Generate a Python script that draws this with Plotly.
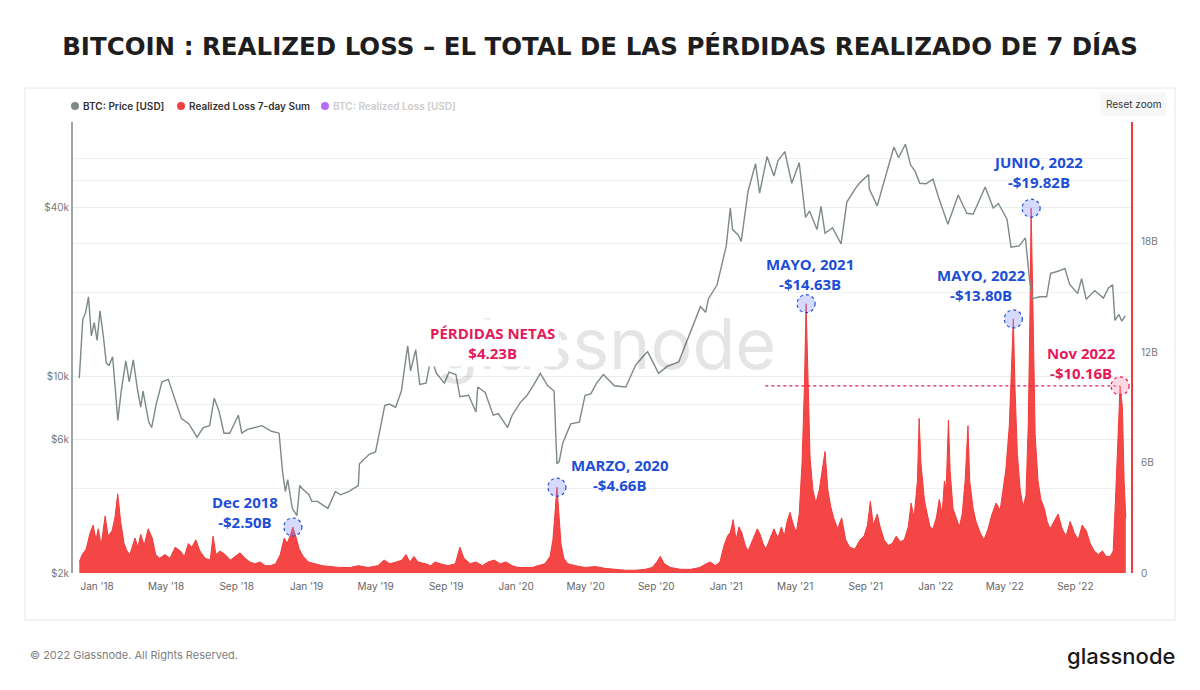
import plotly.graph_objects as go

# ---------------- data ----------------
price_dates = [
    "2017-12-01","2017-12-07","2017-12-12","2017-12-17","2017-12-22","2017-12-27",
    "2018-01-01","2018-01-06","2018-01-12","2018-01-17","2018-01-22","2018-01-28",
    "2018-02-02","2018-02-06","2018-02-12","2018-02-20","2018-02-26","2018-03-05",
    "2018-03-12","2018-03-18","2018-03-22","2018-04-01","2018-04-06","2018-04-14",
    "2018-04-24","2018-05-05","2018-05-15","2018-05-28","2018-06-10","2018-06-24",
    "2018-07-05","2018-07-16","2018-07-24","2018-08-01","2018-08-10","2018-08-20",
    "2018-09-04","2018-09-10","2018-09-20","2018-10-01","2018-10-15","2018-11-01",
    "2018-11-14","2018-11-20","2018-11-25","2018-11-29","2018-12-07","2018-12-15",
    "2018-12-20","2018-12-24","2019-01-05","2019-01-10","2019-01-20","2019-02-07",
    "2019-02-20","2019-03-01","2019-03-15","2019-04-01","2019-04-03","2019-04-20",
    "2019-05-01","2019-05-12","2019-05-17","2019-05-25","2019-06-05","2019-06-15",
    "2019-06-26","2019-07-01","2019-07-10","2019-07-17","2019-07-28","2019-08-06",
    "2019-08-15","2019-08-29","2019-09-06","2019-09-18","2019-09-25","2019-10-10",
    "2019-10-23","2019-10-26","2019-11-08","2019-11-22","2019-12-01","2019-12-17",
    "2019-12-25","2020-01-08","2020-01-20","2020-02-01","2020-02-12","2020-02-25",
    "2020-03-07","2020-03-12","2020-03-16","2020-03-22","2020-04-05","2020-04-20",
    "2020-04-30","2020-05-10","2020-05-20","2020-06-01","2020-06-20","2020-07-10",
    "2020-07-27","2020-08-10","2020-08-17","2020-09-05","2020-09-20","2020-10-10",
    "2020-10-21","2020-11-05","2020-11-17","2020-11-26","2020-12-01","2020-12-16",
    "2020-12-27","2021-01-01","2021-01-08","2021-01-12","2021-01-22","2021-01-27",
    "2021-02-08","2021-02-21","2021-02-28","2021-03-13","2021-03-25","2021-04-01",
    "2021-04-13","2021-04-25","2021-05-08","2021-05-12","2021-05-19","2021-05-26",
    "2021-06-08","2021-06-15","2021-06-22","2021-07-05","2021-07-20","2021-07-30",
    "2021-08-14","2021-08-22","2021-09-06","2021-09-07","2021-09-21","2021-10-01",
    "2021-10-15","2021-10-20","2021-10-28","2021-11-09","2021-11-18","2021-11-26",
    "2021-12-04","2021-12-15","2021-12-27","2022-01-06","2022-01-22","2022-02-09",
    "2022-02-24","2022-03-07","2022-03-28","2022-04-11","2022-04-20","2022-05-05",
    "2022-05-12","2022-05-26","2022-06-06","2022-06-13","2022-06-18","2022-07-01",
    "2022-07-13","2022-07-20","2022-07-30","2022-08-14","2022-08-22","2022-09-05",
    "2022-09-12","2022-09-20","2022-10-05","2022-10-20","2022-10-29","2022-11-05",
    "2022-11-09","2022-11-16","2022-11-21","2022-11-27",
]
price_usd = [
    9900,16000,17000,19300,14000,15600,
    13500,17200,13900,11200,11000,11800,
    8900,7000,8900,11400,9600,11500,
    9100,7800,8900,6900,6600,8000,
    9600,9800,8500,7100,6800,6100,
    6600,6700,8400,7600,6300,6300,
    7300,6300,6500,6600,6700,6400,
    6300,4600,3900,4300,3400,3200,
    4100,4000,3800,3600,3600,3400,
    3900,3800,3900,4100,4900,5300,
    5400,7000,7900,8000,7800,8900,
    12900,10500,12500,9400,9500,11800,
    10300,9500,10400,10200,8500,8600,
    7500,9200,8800,7300,7400,6600,
    7300,8100,8600,9400,10300,9300,
    8900,4900,5000,5800,6800,6900,
    8600,8700,9500,10200,9300,9200,
    11000,11900,12300,10300,10900,11300,
    12900,15600,17800,17000,19000,21300,
    26500,29300,40000,33500,32000,30400,
    46000,57500,45200,61000,52000,58900,
    63500,49000,58000,50000,37000,39000,
    33500,40500,32500,34000,29800,42000,
    47000,49300,52600,46800,40700,48200,
    61500,66000,60500,67500,57000,54000,
    49000,48800,50700,43500,35000,44500,
    38300,38000,47500,40000,41500,36500,
    29000,29300,31300,22500,19000,19300,
    19300,23400,23700,24300,21400,19800,
    22400,18900,20300,19100,20800,21300,
    15900,16700,15800,16500,
]

loss_dates = [
    "2017-12-01","2017-12-06","2017-12-13","2017-12-20","2017-12-25","2017-12-30",
    "2018-01-03","2018-01-08","2018-01-15","2018-01-20","2018-01-27","2018-02-01",
    "2018-02-06","2018-02-11","2018-02-17","2018-02-22","2018-02-27","2018-03-08",
    "2018-03-13","2018-03-18","2018-03-24","2018-03-31","2018-04-07","2018-04-13",
    "2018-04-20","2018-04-29","2018-05-08","2018-05-17","2018-05-26","2018-06-02",
    "2018-06-09","2018-06-15","2018-06-22","2018-06-29","2018-07-08","2018-07-17",
    "2018-07-22","2018-07-27","2018-08-03","2018-08-12","2018-08-21","2018-08-30",
    "2018-09-07","2018-09-16","2018-09-24","2018-10-03","2018-10-12","2018-10-21",
    "2018-10-30","2018-11-08","2018-11-16","2018-11-23","2018-11-28","2018-12-03",
    "2018-12-08","2018-12-14","2018-12-19","2018-12-26","2019-01-04","2019-01-16",
    "2019-01-28","2019-02-11","2019-02-28","2019-03-18","2019-04-01","2019-04-18",
    "2019-05-05","2019-05-16","2019-05-26","2019-06-06","2019-06-16","2019-06-23",
    "2019-06-30","2019-07-07","2019-07-14","2019-07-27","2019-08-05","2019-08-13",
    "2019-08-22","2019-09-04","2019-09-17","2019-09-25","2019-10-02","2019-10-13",
    "2019-10-23","2019-11-03","2019-11-13","2019-11-24","2019-12-04","2019-12-14",
    "2019-12-25","2020-01-04","2020-01-17","2020-01-29","2020-02-08","2020-02-20",
    "2020-02-29","2020-03-05","2020-03-08","2020-03-12","2020-03-15","2020-03-19",
    "2020-03-24","2020-03-31","2020-04-13","2020-04-30","2020-05-18","2020-06-04",
    "2020-06-22","2020-07-09","2020-07-27","2020-08-13","2020-08-25","2020-09-02",
    "2020-09-08","2020-09-15","2020-09-26","2020-10-13","2020-10-31","2020-11-16",
    "2020-11-27","2020-12-04","2020-12-13","2020-12-21","2020-12-28","2021-01-03",
    "2021-01-08","2021-01-13","2021-01-18","2021-01-23","2021-01-28","2021-02-03",
    "2021-02-08","2021-02-13","2021-02-18","2021-02-24","2021-03-01","2021-03-06",
    "2021-03-11","2021-03-18","2021-03-25","2021-04-01","2021-04-07","2021-04-12",
    "2021-04-17","2021-04-22","2021-04-28","2021-05-03","2021-05-08","2021-05-13",
    "2021-05-17","2021-05-20","2021-05-24","2021-05-27","2021-06-01","2021-06-06",
    "2021-06-12","2021-06-17","2021-06-22","2021-06-27","2021-07-02","2021-07-07",
    "2021-07-14","2021-07-21","2021-07-28","2021-08-04","2021-08-13","2021-08-22",
    "2021-08-29","2021-09-04","2021-09-09","2021-09-14","2021-09-21","2021-09-26",
    "2021-10-03","2021-10-10","2021-10-17","2021-10-24","2021-10-31","2021-11-07",
    "2021-11-14","2021-11-19","2021-11-24","2021-11-30","2021-12-03","2021-12-06",
    "2021-12-12","2021-12-17","2021-12-22","2021-12-27","2022-01-02","2022-01-07",
    "2022-01-12","2022-01-16","2022-01-19","2022-01-23","2022-01-26","2022-01-31",
    "2022-02-05","2022-02-11","2022-02-16","2022-02-21","2022-02-26","2022-03-01",
    "2022-03-07","2022-03-12","2022-03-19","2022-03-26","2022-04-02","2022-04-09",
    "2022-04-16","2022-04-23","2022-04-28","2022-05-03","2022-05-09","2022-05-12",
    "2022-05-16","2022-05-19","2022-05-23","2022-05-28","2022-06-02","2022-06-07",
    "2022-06-11","2022-06-14","2022-06-16","2022-06-20","2022-06-23","2022-06-28",
    "2022-07-03","2022-07-09","2022-07-14","2022-07-19","2022-07-26","2022-08-02",
    "2022-08-09","2022-08-16","2022-08-23","2022-08-30","2022-09-06","2022-09-13",
    "2022-09-20","2022-09-27","2022-10-04","2022-10-11","2022-10-18","2022-10-25",
    "2022-11-01","2022-11-06","2022-11-10","2022-11-13","2022-11-16","2022-11-18",
    "2022-11-22","2022-11-25","2022-11-28",
]
loss_bn = [
    0.6,1.0,1.3,2.2,2.6,1.8,
    2.4,1.5,3.1,2.0,2.3,3.0,
    4.3,2.8,1.6,1.2,1.0,1.9,
    1.4,2.1,1.5,2.4,1.9,1.0,
    0.8,1.0,0.8,1.4,1.2,0.9,
    1.6,1.4,1.8,1.2,0.8,0.7,
    2.0,1.0,1.2,1.0,0.7,0.9,
    1.1,0.8,0.6,0.5,0.6,0.4,
    0.4,0.5,1.0,1.9,1.6,2.0,
    2.5,1.9,1.3,0.9,0.6,0.5,
    0.4,0.35,0.3,0.3,0.4,0.3,
    0.4,0.7,0.5,0.6,0.7,1.0,
    0.6,0.9,0.6,0.5,0.4,0.6,
    0.5,0.4,0.5,1.4,0.8,0.5,
    0.6,0.4,0.6,0.7,0.5,0.6,
    0.4,0.3,0.3,0.3,0.4,0.5,
    0.9,1.8,3.0,4.66,3.4,1.6,
    0.8,0.5,0.4,0.3,0.35,0.25,
    0.2,0.15,0.15,0.2,0.3,0.6,
    0.9,0.5,0.3,0.2,0.2,0.3,
    0.5,0.6,0.4,0.6,1.5,2.0,
    2.2,2.9,1.8,2.5,2.2,1.5,
    1.2,1.6,1.9,2.4,2.1,1.6,
    1.3,1.8,2.4,1.9,2.5,2.0,
    2.8,3.3,2.6,2.2,3.2,6.0,
    10.0,14.63,9.0,6.2,4.5,3.8,
    4.5,5.5,6.6,4.5,3.6,3.0,
    2.4,3.0,1.8,1.4,1.3,1.8,
    2.0,2.6,3.9,2.6,3.2,2.5,
    1.8,1.5,1.6,2.0,1.7,1.8,
    2.5,3.8,3.0,5.0,8.4,6.0,
    4.0,3.2,2.5,2.4,3.0,4.0,
    3.2,5.0,4.5,8.3,5.5,3.5,
    3.0,2.5,3.2,5.0,8.0,5.0,
    3.5,2.8,2.2,1.8,2.4,3.2,
    3.8,3.4,4.5,5.6,8.0,11.0,
    13.80,10.0,6.5,4.5,3.6,4.2,
    8.0,14.0,19.82,13.0,7.5,5.0,
    4.0,3.5,2.8,2.4,2.8,3.2,
    2.4,2.0,2.8,2.2,1.8,2.6,
    2.3,1.6,1.2,1.0,1.2,0.9,
    0.9,1.2,4.0,6.5,9.0,10.16,
    9.0,5.0,3.0,
]

callout_dates = ["2018-12-08", "2020-03-12", "2021-05-20", "2022-05-16", "2022-06-16", "2022-11-18"]
callout_values = [2.50, 4.66, 14.63, 13.80, 19.82, 10.16]
callout_titles = ["Dec 2018", "MARZO, 2020", "MAYO, 2021", "MAYO, 2022", "JUNIO, 2022", "Nov 2022"]
callout_amounts = ["-$2.50B", "-$4.66B", "-$14.63B", "-$13.80B", "-$19.82B", "-$10.16B"]

net_title = "PÉRDIDAS NETAS"
net_amount = "$4.23B"
threshold_start = "2021-03-10"

left_tickvals = [2000, 6000, 10000, 40000]
left_ticktext = ["$2k", "$6k", "$10k", "$40k"]
left_minor_grid = [4000, 8000, 20000, 30000, 50000, 60000]
right_tickvals = [0, 6, 12, 18]
right_ticktext = ["0", "6B", "12B", "18B"]

# ---------------- styling ----------------
W, H = 1200, 690
ML, MR, MT, MB = 73, 69, 122, 117
PW, PH = W - ML - MR, H - MT - MB

def px(x):
    return (x - ML) / PW

def py(y):
    return (H - MB - y) / PH

BLUE = "#1d4ed8"
CRIMSON = "#e5195a"
RED = "#f23b3b"
GREY_LINE = "#7d8a86"
FONT = "Open Sans"
UI = "Inter"

fig = go.Figure()

fig.add_trace(go.Scatter(
    x=loss_dates, y=loss_bn, yaxis="y", mode="lines",
    line=dict(color=RED, width=1), fill="tozeroy",
    fillcolor="rgba(244,60,60,0.95)", name="Realized Loss 7-day Sum",
    showlegend=False, hoverinfo="skip",
))
fig.add_trace(go.Scatter(
    x=price_dates, y=price_usd, yaxis="y2", mode="lines",
    line=dict(color=GREY_LINE, width=1.4), name="BTC: Price [USD]",
    showlegend=False, hoverinfo="skip",
))

shapes = []
annotations = []

# card border
shapes.append(dict(type="rect", xref="paper", yref="paper",
                   x0=px(25), x1=px(1175), y0=py(620), y1=py(88),
                   line=dict(color="#e6e6e6", width=1), layer="below"))

# threshold dashed line
shapes.append(dict(type="line", xref="x", yref="y",
                   x0=threshold_start, x1=callout_dates[-1],
                   y0=callout_values[-1], y1=callout_values[-1],
                   line=dict(color=CRIMSON, width=1.2, dash="dot")))

# watermark
annotations.append(dict(xref="paper", yref="paper", x=px(606), y=py(343),
                        text="glassnode", showarrow=False,
                        font=dict(family=UI, size=70, color="rgba(0,0,0,0.10)"),
                        xanchor="center", yanchor="middle"))

# callout circles and labels (offsets in pixels)
offsets = [(-48, 15), (63, 12), (4, 30), (-32, 34), (7, 36), (-39, 23)]
for i, (d, v, t, a) in enumerate(zip(callout_dates, callout_values, callout_titles, callout_amounts)):
    col = CRIMSON if i == 5 else BLUE
    fill = "rgba(250,170,195,0.45)" if i == 5 else "rgba(140,150,255,0.35)"
    shapes.append(dict(type="circle", xref="x", yref="y",
                       xsizemode="pixel", ysizemode="pixel",
                       xanchor=d, yanchor=v, x0=-9, x1=9, y0=-9, y1=9,
                       fillcolor=fill, line=dict(color=col, width=1.2, dash="dot")))
    dx, dy = offsets[i]
    annotations.append(dict(xref="x", yref="y", x=d, y=v, xshift=dx, yshift=dy,
                            text=f"<b>{t}</b><br><b>{a}</b>", showarrow=False,
                            align="center", xanchor="center", yanchor="middle",
                            font=dict(family=FONT, size=15, color=col)))

annotations.append(dict(xref="paper", yref="paper", x=px(492), y=py(343),
                        text=f"<b>{net_title}</b><br><b>{net_amount}</b>",
                        showarrow=False, align="center", xanchor="center",
                        yanchor="middle", bgcolor="white", borderpad=3,
                        font=dict(family=FONT, size=15, color=CRIMSON)))

# custom legend
legend_items = [("BTC: Price [USD]", "#7d8a86", "#333333", 75),
                ("Realized Loss 7-day Sum", "#f04040", "#333333", 181),
                ("BTC: Realized Loss [USD]", "rgba(168,85,247,0.85)", "#cccccc", 325)]
for label, dot, tcol, x in legend_items:
    shapes.append(dict(type="circle", xref="paper", yref="paper",
                       xsizemode="pixel", ysizemode="pixel",
                       xanchor=px(x), yanchor=py(106), x0=-4, x1=4, y0=-4, y1=4,
                       fillcolor=dot, line=dict(width=0)))
    annotations.append(dict(xref="paper", yref="paper", x=px(x + 6), y=py(106),
                            text=label, showarrow=False,
                            xanchor="left", yanchor="middle",
                            font=dict(family=UI, size=10, color=tcol, weight=600)))

# reset zoom button
annotations.append(dict(xref="paper", yref="paper", x=px(1133), y=py(104),
                        text="Reset zoom", showarrow=False, xanchor="center",
                        yanchor="middle", bgcolor="#f7f7f7", borderpad=5,
                        font=dict(family=UI, size=10, color="#333333")))

# footer
annotations.append(dict(xref="paper", yref="paper", x=px(28), y=py(655),
                        text="© 2022 Glassnode. All Rights Reserved.", showarrow=False,
                        xanchor="left", yanchor="middle",
                        font=dict(family=UI, size=11, color="#808080")))
annotations.append(dict(xref="paper", yref="paper", x=px(1177), y=py(656),
                        text="glassnode", showarrow=False,
                        xanchor="right", yanchor="middle",
                        font=dict(family=UI, size=22, color="#1a1a1a", weight=500)))

fig.update_layout(
    width=W, height=H,
    margin=dict(l=ML, r=MR, t=MT, b=MB),
    paper_bgcolor="white", plot_bgcolor="white",
    showlegend=False,
    title=dict(text="<b>BITCOIN : REALIZED LOSS – EL TOTAL DE LAS PÉRDIDAS REALIZADO DE 7 DÍAS</b>",
               x=0.5, xanchor="center", y=1 - 46 / H, yanchor="middle",
               font=dict(family="DejaVu Sans", size=24.5, color="#1e1e1e")),
    xaxis=dict(type="date", range=["2017-11-20", "2022-12-07"],
               tickformat="%b '%y", dtick="M4", tick0="2018-01-01",
               showgrid=False, zeroline=False, showline=False, ticks="",
               ticklabelstandoff=6,
               tickfont=dict(family=UI, size=10, color="#666666")),
    yaxis=dict(side="right", range=[0, 24.5], tickvals=right_tickvals,
               ticktext=right_ticktext, showgrid=False, zeroline=False,
               showline=True, linecolor="#f03c3c", linewidth=2,
               ticklabelstandoff=6,
               tickfont=dict(family=UI, size=10, color="#777777"), ticks=""),
    yaxis2=dict(overlaying="y", side="left", type="log",
                range=[3.30103, 4.9085], tickvals=left_tickvals, ticktext=left_ticktext,
                showgrid=True, gridcolor="#ececec", zeroline=False,
                showline=True, linecolor="#a0a6a4", linewidth=2,
                minor=dict(tickvals=left_minor_grid, showgrid=True, gridcolor="#f0f0f0", ticks=""),
                tickfont=dict(family=UI, size=10, color="#777777"), ticks=""),
    shapes=shapes,
    annotations=annotations,
)

fig.write_html("out.html", config={"displayModeBar": False},
               post_script="document.body.style.margin='0';document.body.style.overflow='hidden';")
